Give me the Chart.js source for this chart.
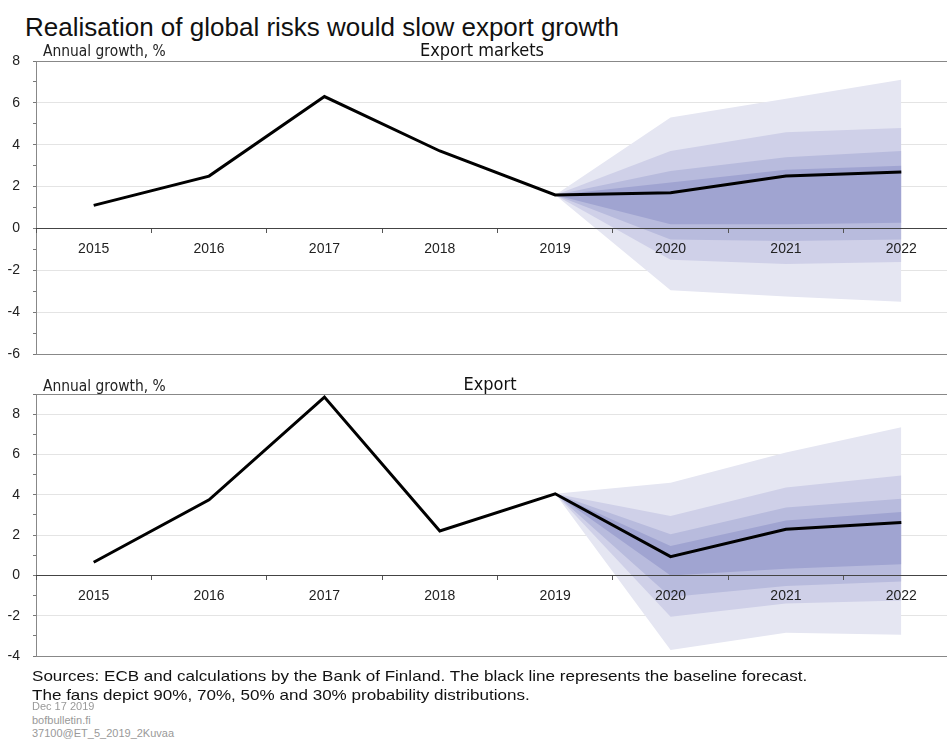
<!DOCTYPE html>
<html>
<head>
<meta charset="utf-8">
<script src="https://cdn.jsdelivr.net/npm/chart.js@4.4.1/dist/chart.umd.min.js"></script>
<style>
  html, body { margin: 0; background: #fff; overflow: hidden; font-family: "Liberation Sans", Arial, sans-serif; }
  #page { position: relative; width: 947px; height: 747px; overflow: hidden; }
  .abs { position: absolute; white-space: nowrap; }
  .title { left: 25px; top: 12px; font-size: 26px; color: #111; }
  .unit { font-family: "Liberation Sans Narrow", "DejaVu Sans Condensed", sans-serif; font-size: 15.4px; color: #222; }
  .panel { font-family: "Liberation Sans Narrow", "DejaVu Sans Condensed", sans-serif; font-size: 18px; color: #111; transform: translateX(-50%); }
  .src { left: 32px; font-size: 15px; color: #111; transform: scaleX(1.137); transform-origin: left top; }
  .meta { left: 32px; font-size: 11px; color: #999; }
  canvas { position: absolute; left: 0; }
</style>
</head>
<body>
<div id="page">
  <div class="abs title">Realisation of global risks would slow export growth</div>
  <canvas id="markets" width="960" height="341" style="top:37px;"></canvas>
  <canvas id="exports" width="960" height="310" style="top:370px;"></canvas>
  <div class="abs unit" style="left:43px; top:42px;">Annual growth, %</div>
  <div class="abs panel" style="left:482px; top:39px;">Export markets</div>
  <div class="abs unit" style="left:43px; top:377px;">Annual growth, %</div>
  <div class="abs panel" style="left:490px; top:373px;">Export</div>
  <div class="abs src" style="top:667px;">Sources: ECB and calculations by the Bank of Finland. The black line represents the baseline forecast.</div>
  <div class="abs src" style="top:686px;">The fans depict 90%, 70%, 50% and 30% probability distributions.</div>
  <div class="abs meta" style="top:700px;">Dec 17 2019</div>
  <div class="abs meta" style="top:714px;">bofbulletin.fi</div>
  <div class="abs meta" style="top:727px;">37100@ET_5_2019_2Kuvaa</div>
</div>
<script>
const years = ['2015', '2016', '2017', '2018', '2019', '2020', '2021', '2022'];

// Export markets
const marketsBase = [1.1, 2.5, 6.3, 3.7, 1.6, 1.7, 2.5, 2.7];
const markets90Hi = [null, null, null, null, 1.6, 5.3, 6.2, 7.1];
const markets90Lo = [null, null, null, null, 1.6, -2.95, -3.25, -3.5];
const markets70Hi = [null, null, null, null, 1.6, 3.7, 4.6, 4.8];
const markets70Lo = [null, null, null, null, 1.6, -1.5, -1.7, -1.6];
const markets50Hi = [null, null, null, null, 1.6, 2.75, 3.4, 3.7];
const markets50Lo = [null, null, null, null, 1.6, -0.53, -0.6, -0.53];
const markets30Hi = [null, null, null, null, 1.6, 2.2, 2.8, 3.0];
const markets30Lo = [null, null, null, null, 1.6, 0.2, 0.2, 0.27];

// Export
const exportBase = [0.65, 3.75, 8.85, 2.2, 4.05, 0.93, 2.29, 2.62];
const export90Hi = [null, null, null, null, 4.05, 4.6, 6.1, 7.35];
const export90Lo = [null, null, null, null, 4.05, -3.7, -2.85, -2.94];
const export70Hi = [null, null, null, null, 4.05, 2.95, 4.36, 4.95];
const export70Lo = [null, null, null, null, 4.05, -2.05, -1.4, -1.25];
const export50Hi = [null, null, null, null, 4.05, 2.04, 3.37, 3.8];
const export50Lo = [null, null, null, null, 4.05, -1.07, -0.53, -0.3];
const export30Hi = [null, null, null, null, 4.05, 1.46, 2.72, 3.15];
const export30Lo = [null, null, null, null, 4.05, 0.0, 0.33, 0.55];

const fanColors = { p90: '#e5e6f2', p70: '#cfd0e8', p50: '#b8bbdd', p30: '#a0a4d1' };

// one fan band = upper edge filled down to the lower edge
function band(hi, lo, color, order) {
  return [
    { data: hi, fill: '+1', backgroundColor: color, borderWidth: 0, pointRadius: 0, order: order },
    { data: lo, fill: false, borderWidth: 0, pointRadius: 0, order: order }
  ];
}

function makeChart(id, base, fans, yMin, yMax) {
  const datasets = [
    { data: base, borderColor: '#000', borderWidth: 3, pointRadius: 0, fill: false, order: 0 },
    ...band(fans[0][0], fans[0][1], fanColors.p90, 4),
    ...band(fans[1][0], fans[1][1], fanColors.p70, 3),
    ...band(fans[2][0], fans[2][1], fanColors.p50, 2),
    ...band(fans[3][0], fans[3][1], fanColors.p30, 1)
  ];
  return new Chart(document.getElementById(id), {
    type: 'line',
    data: { labels: years, datasets: datasets },
    options: {
      responsive: false,
      animation: false,
      layout: { padding: { top: 24, bottom: 24, left: 0, right: 1 } },
      plugins: { legend: { display: false }, tooltip: { enabled: false } },
      elements: { line: { tension: 0 } },
      scales: {
        x: {
          position: { y: 0 },
          offset: true,
          border: { color: '#444', width: 1, z: 1 },
          grid: { drawOnChartArea: false, offset: true, tickLength: 4, color: '#555', z: 1 },
          ticks: { color: '#222', font: { family: 'Liberation Sans', size: 14 }, padding: 8, maxRotation: 0, z: 1 }
        },
        y: {
          min: yMin,
          max: yMax,
          border: { color: '#888', width: 1 },
          afterFit: s => { s.width = 36; },
          grid: {
            tickLength: 3,
            tickColor: '#777',
            color: c => {
              const v = c.tick.value;
              if (v === 0) return '#444';
              if (v === yMin || v === yMax) return '#888';
              return v % 2 === 0 ? '#e4e4e4' : 'rgba(0,0,0,0)';
            }
          },
          ticks: {
            stepSize: 1,
            padding: 13,
            color: '#222',
            font: { family: 'Liberation Sans', size: 14 },
            callback: v => (v % 2 === 0 ? String(v) : '')
          }
        }
      }
    }
  });
}

makeChart('markets', marketsBase, [
  [markets90Hi, markets90Lo], [markets70Hi, markets70Lo],
  [markets50Hi, markets50Lo], [markets30Hi, markets30Lo]
], -6, 8);

makeChart('exports', exportBase, [
  [export90Hi, export90Lo], [export70Hi, export70Lo],
  [export50Hi, export50Lo], [export30Hi, export30Lo]
], -4, 9);
</script>
</body>
</html>
